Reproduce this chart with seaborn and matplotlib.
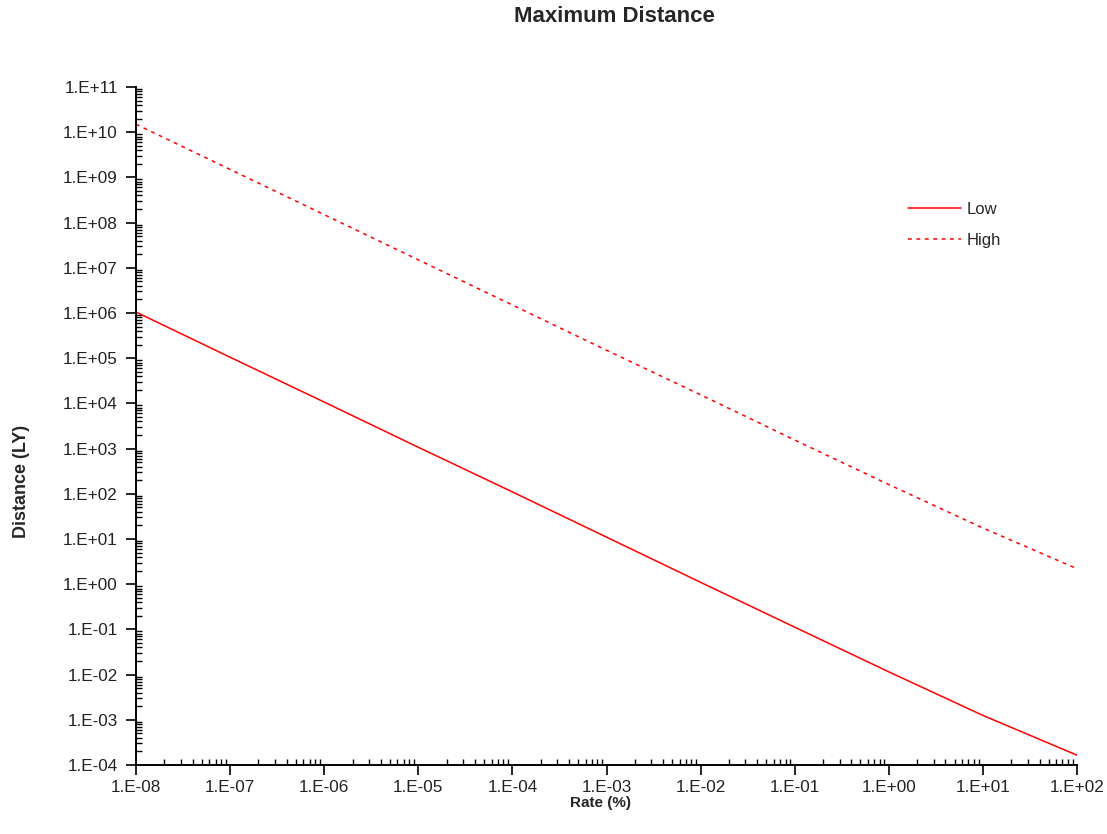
import numpy as np
import pandas as pd
import matplotlib
matplotlib.use("Agg")
import matplotlib.pyplot as plt
import matplotlib.ticker as mticker
import seaborn as sns

# Data
rate = [1e-8, 1e-7, 1e-6, 1e-5, 1e-4, 1e-3, 1e-2, 1e-1, 1e0, 1e1, 1e2]
low = [1.05e6, 1.05e5, 1.07e4, 1.07e3, 1.1e2, 1.1e1, 1.1, 1.12e-1, 1.15e-2, 1.25e-3, 1.65e-4]
high = [1.5e10, 1.5e9, 1.5e8, 1.5e7, 1.5e6, 1.5e5, 1.55e4, 1.55e3, 1.6e2, 1.75e1, 2.2]
series_names = ["Low", "High"]

df = pd.concat([
    pd.DataFrame({"Rate": rate, "Distance": low, "Series": "Low"}),
    pd.DataFrame({"Rate": rate, "Distance": high, "Series": "High"}),
])

sns.set_style("ticks")
plt.rcParams["font.family"] = ["Liberation Sans", "DejaVu Sans"]

fig = plt.figure(figsize=(11.07, 8.34), dpi=100)
ax = fig.add_axes([136/1107, 1-765/834, (1077-136)/1107, (765-87)/834])

sns.lineplot(data=df, x="Rate", y="Distance", hue="Series", style="Series",
             hue_order=series_names, style_order=series_names,
             palette={"Low": "#ff0000", "High": "#ff0000"},
             dashes={"Low": "", "High": (2.5, 3)},
             linewidth=1.1, ax=ax, sort=False, estimator=None)

ax.set_xscale("log")
ax.set_yscale("log")
ax.set_xlim(1e-8, 1e2)
ax.set_ylim(1e-4, 1e11)

def fmt(v, pos):
    e = int(round(np.log10(v)))
    return f"1.E{e:+03d}"

ax.xaxis.set_major_locator(mticker.LogLocator(base=10, numticks=20))
ax.yaxis.set_major_locator(mticker.LogLocator(base=10, numticks=20))
ax.xaxis.set_minor_locator(mticker.LogLocator(base=10, subs=np.arange(2, 10), numticks=20))
ax.yaxis.set_minor_locator(mticker.LogLocator(base=10, subs=np.arange(2, 10), numticks=20))
ax.xaxis.set_major_formatter(mticker.FuncFormatter(fmt))
ax.yaxis.set_major_formatter(mticker.FuncFormatter(fmt))
ax.xaxis.set_minor_formatter(mticker.NullFormatter())
ax.yaxis.set_minor_formatter(mticker.NullFormatter())

ax.tick_params(axis="both", which="major", direction="out", length=7, width=1.2,
               labelsize=12.3, colors="#000000", labelcolor="#222222")
ax.tick_params(axis="y", which="major", pad=6)
ax.tick_params(axis="x", which="major", pad=4)
ax.tick_params(axis="both", which="minor", direction="in", length=4, width=1.0, colors="#000000")
sns.despine(ax=ax)
for s in ["left", "bottom"]:
    ax.spines[s].set_linewidth(1.4)
    ax.spines[s].set_color("#000000")

ax.set_xlabel("Rate (%)", fontsize=11, fontweight="bold")
ax.set_ylabel("Distance (LY)", fontsize=13, fontweight="bold")
# place axis titles (figure pixel positions converted to axes coords)
ax.xaxis.set_label_coords((601-136)/(1077-136), -(803-765)/(765-87))
ax.xaxis.label.set_va("center")
ax.yaxis.set_label_coords(-(136-22)/(1077-136), (765-481)/(765-87))
ax.yaxis.label.set_va("center")

fig.text(614/1107, 1-16/834, "Maximum Distance", ha="center", va="center",
         fontsize=16, fontweight="bold")

leg = ax.legend(loc="upper left", bbox_to_anchor=(908/1107, 1-202/834),
                bbox_transform=fig.transFigure, frameon=False, fontsize=12,
                handlelength=3.2, handletextpad=0.3, borderpad=0, borderaxespad=0,
                labelspacing=0.95, title=None)

fig.savefig("out.png", dpi=100, facecolor="white")
